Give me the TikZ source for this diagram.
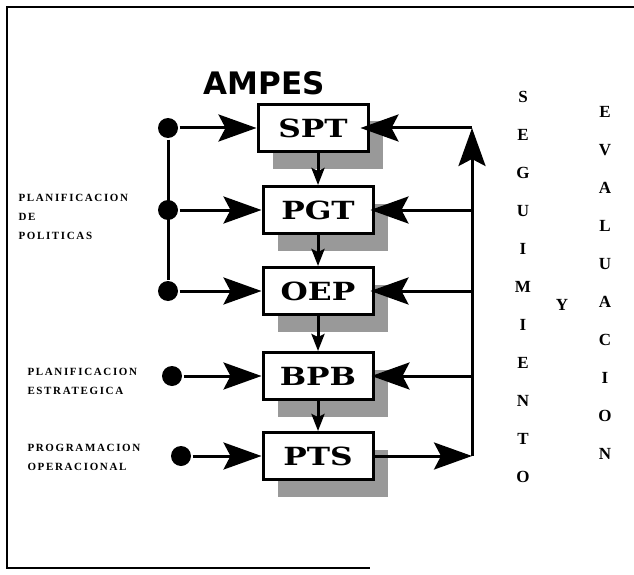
\documentclass[tikz,border=0pt]{standalone}
\usepackage{fontspec}
\setmainfont{Liberation Serif}
\newfontfamily\boxfont[FakeStretch=1.25]{DejaVu Serif}
\newfontfamily\titlefont{DejaVu Sans}
\newfontfamily\sidefont[LetterSpace=15]{Liberation Serif}
\usetikzlibrary{arrows.meta,shadows}

\begin{document}
\begin{tikzpicture}[x=1pt,y=-1pt,line width=3pt,
    >={Stealth[length=38pt,width=27pt,inset=7pt]}]
      \tikzstyle{block}=[draw,line width=3pt,fill=white,inner sep=0pt,
        minimum width=110pt,minimum height=47pt,
        font=\boxfont\bfseries\fontsize{25}{25}\selectfont,
        drop shadow={shadow xshift=15pt,shadow yshift=-17pt,fill=black!40,opacity=1}];
      \tikzstyle{dot}=[circle,fill,inner sep=0pt,minimum size=20pt];
      \tikzstyle{vletter}=[inner sep=0pt,font=\bfseries\fontsize{17}{17}\selectfont];
      \tikzstyle{sidetext}=[anchor=north west,inner sep=0pt,align=left,
        font=\sidefont\bfseries\fontsize{11}{19}\selectfont];
      \tikzstyle{down}=[-{Stealth[length=17pt,width=13pt,inset=3pt]}];

        \useasboundingbox (0,0) rectangle (634,575);
        \draw[line width=2pt] (634,7) -- (7,7) -- (7,568) -- (370,568);

        \node[font=\titlefont\bfseries\fontsize{31}{31}\selectfont] (ampes) at (264,83) {AMPES};

        % boxes
        \node[block] (spt) at (313,128) {SPT};
        \node[block] (pgt) at (318,210) {PGT};
        \node[block] (oep) at (318,291) {OEP};
        \node[block] (bpb) at (318,376) {BPB};
        \node[block] (pts) at (318,456) {PTS};

        % inputs on the left
        \node[dot] (d1) at (168,128) {};
        \node[dot] (d2) at (168,210) {};
        \node[dot] (d3) at (168,291) {};
        \node[dot] (d4) at (172,376) {};
        \node[dot] (d5) at (181,456) {};

        \node[sidetext] (pol) at (17,193) {PLANIFICACION\\DE\\POLITICAS};
        \node[sidetext] (est) at (26,367) {PLANIFICACION\\ESTRATEGICA};
        \node[sidetext] (ope) at (26,443) {PROGRAMACION\\OPERACIONAL};

        \path[draw] (d1) -- (d3);
        \path[->,draw] (d1) -- (spt);
        \path[->,draw] (d2) -- (pgt);
        \path[->,draw] (d3) -- (oep);
        \path[->,draw] (d4) -- (bpb);
        \path[->,draw] (d5) -- (pts);

        % chain
        \path[down,draw] (spt.south -| pgt.north) -- (pgt.north);
        \path[down,draw] (pgt) -- (oep);
        \path[down,draw] (oep) -- (bpb);
        \path[down,draw] (bpb) -- (pts);

        % feedback on the right
        \coordinate (r1) at (472,128);
        \coordinate (r2) at (472,210);
        \coordinate (r3) at (472,291);
        \coordinate (r4) at (472,376);
        \coordinate (r5) at (472,456);

        \path[->,draw] (pts) -- (r5);
        \path[->,draw] (r5) -- (r1);
        \path[->,draw,shorten >=-9pt] (r1) -- (spt);
        \path[->,draw,shorten >=-4pt] (r2) -- (pgt);
        \path[->,draw,shorten >=-4pt] (r3) -- (oep);
        \path[->,draw,shorten >=-3pt] (r4) -- (bpb);

        \foreach \l [count=\i from 0] in {S,E,G,U,I,M,I,E,N,T,O}
          \node[vletter] (s\i) at (523,97+38*\i) {\l};
        \node[vletter] (y) at (562,305) {Y};
        \foreach \l [count=\i from 0] in {E,V,A,L,U,A,C,I,O,N}
          \node[vletter] (e\i) at (605,112+38*\i) {\l};
    \end{tikzpicture}
\end{document}
